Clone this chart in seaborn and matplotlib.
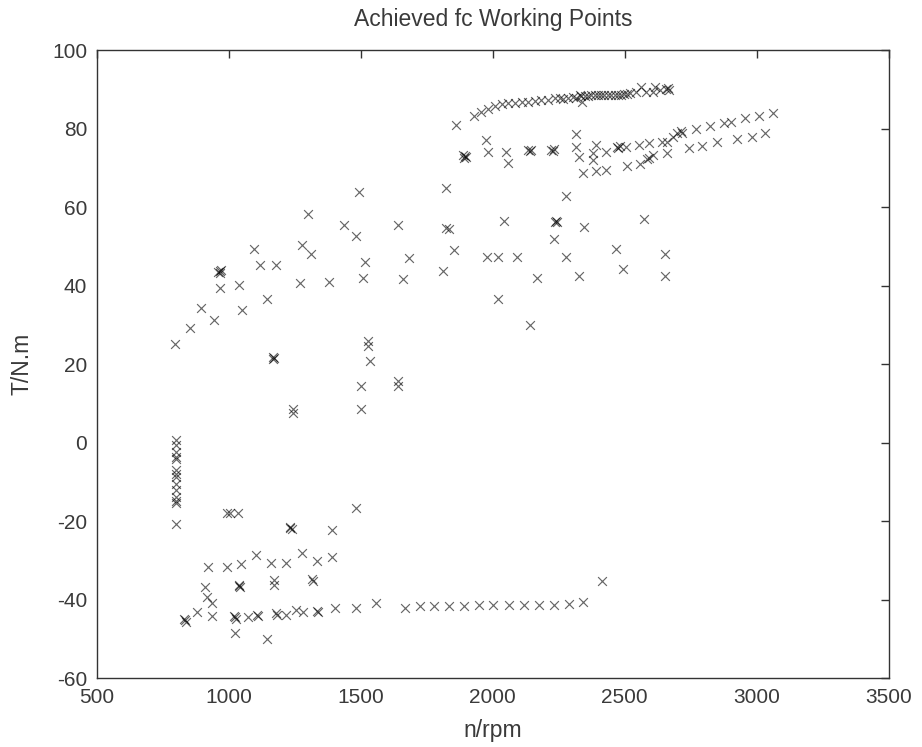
import numpy as np
import pandas as pd
import matplotlib
matplotlib.use('Agg')
import matplotlib.pyplot as plt
import seaborn as sns

# working points (n in rpm, T in N.m)
# upper full-load curve
n_top = [1862, 1929, 1957, 1982, 2008, 2033, 2058, 2083, 2109, 2134, 2159, 2184,
         2209, 2235, 2255, 2265, 2285, 2305, 2315, 2330, 2335, 2336,
         2348, 2361, 2373, 2386, 2398, 2411, 2423, 2436, 2448, 2461, 2473, 2486,
         2498, 2510, 2519, 2544, 2563, 2582, 2607, 2614, 2633, 2655, 2662, 2668]
t_top = [80.9, 83.2, 84.3, 85.1, 85.7, 86.2, 86.4, 86.6, 86.7, 86.8, 87.1, 87.3,
         87.4, 87.7, 87.7, 87.5, 87.7, 88.1, 87.9, 88.5, 88.3, 86.8,
         88.4, 88.4, 88.5, 88.5, 88.5, 88.5, 88.5, 88.5, 88.6, 88.6, 88.6, 88.6,
         88.7, 88.7, 89.0, 89.4, 90.7, 89.4, 89.4, 90.7, 89.8, 90.0, 90.3, 89.9]

# second band (70-84 N.m)
n_band = [1973, 1886, 1893, 1898, 1890, 1981, 2050, 2057, 2135, 2140, 2145,
          2222, 2228, 2232, 2314, 2314, 2327, 2342, 2380, 2390, 2380, 2427,
          2390, 2430, 2470, 2476, 2480, 2504, 2509, 2552, 2592, 2557, 2584,
          2590, 2607, 2639, 2658, 2660, 2683, 2696, 2711, 2715, 2743, 2771,
          2794, 2822, 2850, 2876, 2904, 2925, 2955, 2980, 3009, 3030, 3060]
t_band = [77.1, 73.2, 73.0, 72.8, 72.5, 74.1, 74.1, 71.3, 74.5, 74.3, 74.6,
          74.6, 74.4, 74.7, 78.5, 75.4, 72.8, 68.7, 73.7, 75.8, 72.0, 74.1,
          69.3, 69.4, 75.4, 75.0, 75.6, 75.4, 70.4, 75.8, 76.2, 71.1, 72.2,
          72.6, 73.2, 76.6, 76.6, 73.8, 77.9, 78.8, 79.4, 79.0, 75.0, 79.8,
          75.5, 80.7, 76.5, 81.3, 81.7, 77.4, 82.6, 77.8, 83.2, 78.8, 84.0]

# part load, positive torque
n_mid = [1494, 1299, 1438, 1480, 1639, 1821, 1824, 1097, 1276, 1313, 1119, 1179,
         960, 966, 972, 966, 1515, 1682, 1812, 965, 1040, 1270, 1381, 1508,
         1660, 1145, 895, 1049, 944, 853, 798, 1834, 2042, 2234, 2239, 2244,
         2347, 2571, 1853, 1978, 2020, 2091, 2230, 2277, 2467, 2654, 2168,
         2328, 2494, 2654, 2021, 2140, 2277,
         1528, 1528, 1534, 1167, 1167, 1170, 1499, 1639, 1639, 1499, 1244, 1244]
t_mid = [63.9, 58.2, 55.4, 52.7, 55.4, 64.8, 54.6, 49.3, 50.3, 48.0, 45.2, 45.2,
         43.5, 43.8, 44.0, 43.2, 46.1, 47.1, 43.8, 39.5, 40.1, 40.6, 41.0, 42.0,
         41.8, 36.7, 34.4, 33.9, 31.2, 29.3, 25.1, 54.4, 56.4, 56.2, 56.5, 56.3,
         54.9, 56.9, 49.0, 47.3, 47.3, 47.3, 51.8, 47.3, 49.4, 48.0, 42.0,
         42.4, 44.3, 42.4, 36.7, 30.1, 62.9,
         25.9, 24.6, 20.8, 21.9, 21.2, 21.5, 14.4, 15.7, 14.5, 8.7, 8.7, 7.5]

# idle column and small negative torque
n_idle = [800, 800, 800, 800, 800, 800, 800, 800, 800, 800, 800, 800, 800, 800,
          1480, 995, 1003, 1035]
t_idle = [0.8, -0.6, -2.3, -3.6, -4.2, -7.0, -8.0, -8.7, -10.4, -12.1, -13.8,
          -14.8, -15.3, -20.8, -16.6, -18.0, -17.9, -18.0]

# braking / drag points
n_neg = [1233, 1238, 1230, 1389, 1103, 1278, 1389, 923, 992, 1048, 1160, 1215,
         1334, 910, 1040, 1043, 1037, 1172, 1172, 1317, 1320, 918, 937, 881,
         936, 834, 838, 831, 1024, 1028, 1020, 1073, 1107, 1112, 1178, 1182,
         1218, 1256, 1281, 1334, 1337, 1404, 1480, 1556, 1668, 1723, 1777, 1833,
         1889, 1946, 2001, 2063, 2120, 2175, 2231, 2287, 2342, 2412, 1022, 1145]
t_neg = [-21.7, -22.1, -21.4, -22.2, -28.7, -28.2, -29.2, -31.6, -31.6, -31.0,
         -30.6, -30.6, -30.1, -36.7, -36.5, -36.8, -36.3, -34.9, -36.3, -34.7,
         -35.2, -39.3, -40.8, -43.2, -44.2, -45.2, -45.6, -44.9, -44.4, -44.8,
         -44.1, -44.4, -43.9, -44.2, -43.5, -43.9, -43.8, -42.7, -43.1, -42.9,
         -43.2, -42.1, -42.1, -40.9, -42.2, -41.7, -41.7, -41.7, -41.7, -41.4,
         -41.4, -41.4, -41.4, -41.4, -41.4, -41.0, -40.5, -35.3, -48.4, -50.1]

dados = pd.DataFrame({
    'n': n_top + n_band + n_mid + n_idle + n_neg,
    'T': t_top + t_band + t_mid + t_idle + t_neg,
})

sns.set_style('white')
plt.rcParams['font.family'] = ['Liberation Sans', 'DejaVu Sans']
plt.rcParams['axes.unicode_minus'] = False
txt = '#3a3a3a'

fig, ax = plt.subplots(figsize=(9.22, 7.47), dpi=100)
fig.subplots_adjust(left=0.105, right=0.964, bottom=0.092, top=0.933)

sns.scatterplot(data=dados, x='n', y='T', marker='x', color='black',
                s=40, linewidth=0.85, alpha=0.6, ax=ax)

ax.set_xlim(500, 3500)
ax.set_ylim(-60, 100)
ax.set_xticks(np.arange(500, 3501, 500))
ax.set_yticks(np.arange(-60, 101, 20))
ax.tick_params(direction='in', length=6, width=1, top=True, right=True,
               labelsize=15, colors='#333333', labelcolor=txt, pad=7)
for s in ax.spines.values():
    s.set_color('#333333')
    s.set_linewidth(1)

ax.set_title('Achieved fc Working Points', fontsize=16.5, color=txt, pad=17)
ax.set_xlabel('n/rpm', fontsize=16.5, color=txt, labelpad=9)
ax.set_ylabel('T/N.m', fontsize=16.5, color=txt)
ax.yaxis.set_label_coords(-0.08, 0.5)

plt.savefig('out.png', dpi=100)
